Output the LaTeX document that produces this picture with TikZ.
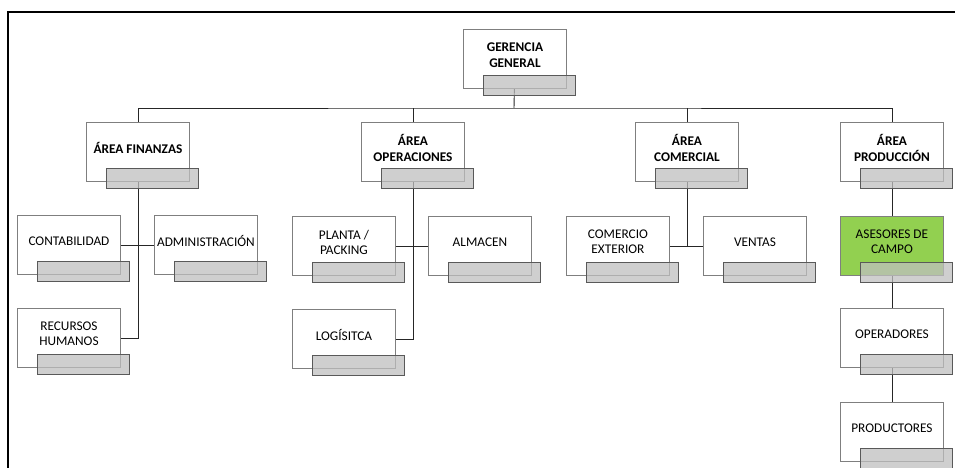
\documentclass[tikz,border=0pt]{standalone}
\usepackage{fontspec}
\setmainfont{Carlito}
\pgfdeclarelayer{bg}
\pgfsetlayers{bg,main}
\definecolor{boxgray}{HTML}{7F7F7F}
\definecolor{bargray}{HTML}{595959}
\definecolor{barfill}{HTML}{BFBFBF}
\definecolor{green}{HTML}{92D050}
\tikzset{
  wbox/.style={draw=boxgray, line width=0.9pt, minimum width=103pt, minimum height=59pt, anchor=north west, inner sep=0pt},
  gbar/.style={draw=bargray, fill=barfill, fill opacity=0.75, line width=0.9pt, minimum width=92pt, minimum height=20pt, anchor=north west, inner sep=0pt},
  lbl/.style={align=center, inner sep=0pt, font=\fontsize{13.3}{15}\selectfont},
  blbl/.style={align=center, inner sep=0pt, font=\bfseries\fontsize{13.3}{16.5}\selectfont},
  conn/.style={line width=0.9pt, draw=black!85},
  frame/.style={line width=2pt, draw=black}
}
\newcommand\orgunit[6][white]{%
  \node[wbox, fill=#1] (#2) at (#3,#4) {};
  \node[gbar] (#2-b) at ([xshift=20pt,yshift=-46pt]#2.north west) {};
  \node[#5] (#2-t) at ([yshift=-26pt]#2.north) {#6};
}
\begin{document}
\begin{tikzpicture}[x=1pt,y=-1pt]
\useasboundingbox (0,0) rectangle (955,468);
\draw[frame] (8,468) -- (8,12) -- (955,12);

\orgunit{gg}{463}{29}{blbl}{GERENCIA\\GENERAL}
\orgunit{fin}{86}{122}{blbl}{ÁREA FINANZAS}
\orgunit{ope}{361}{122}{blbl}{ÁREA\\OPERACIONES}
\orgunit{com}{635}{122}{blbl}{ÁREA\\COMERCIAL}
\orgunit{prod}{840}{122}{blbl}{ÁREA\\PRODUCCIÓN}

\orgunit{cont}{17}{215}{lbl}{CONTABILIDAD}
\orgunit{adm}{154}{215}{lbl}{ADMINISTRACIÓN}
\orgunit{rh}{17}{308}{lbl}{RECURSOS\\HUMANOS}

\orgunit{pla}{292}{216}{lbl}{PLANTA /\\PACKING}
\orgunit{alm}{428}{216}{lbl}{ALMACEN}
\orgunit{log}{292}{309}{lbl}{LOGÍSITCA}

\orgunit{ce}{566}{216}{lbl}{COMERCIO\\EXTERIOR}
\orgunit{ven}{703}{216}{lbl}{VENTAS}

\orgunit[green]{ase}{840}{216}{lbl}{ASESORES DE\\CAMPO}
\orgunit{opr}{840}{308}{lbl}{OPERADORES}
\orgunit{pdr}{840}{402}{lbl}{PRODUCTORES}

\begin{pgfonlayer}{bg}
  \coordinate (hl) at (514,108);
  \draw[conn] (gg.center) -- (hl);
  \draw[conn] (fin.center) |- (hl) -| (prod.center);
  \draw[conn] (ope.center) -- (ope.center |- hl);
  \draw[conn] (com.center) -- (com.center |- hl);
  \draw[conn] (fin.center) |- (rh.east);
  \draw[conn] (cont.east) -- (adm.west);
  \draw[conn] (ope.center) |- (log.east);
  \draw[conn] (pla.east) -- (alm.west);
  \draw[conn] (com.center) -- (com.center |- ce.east);
  \draw[conn] (ce.east) -- (ven.west);
  \draw[conn] (prod.center) -- (pdr.center);
\end{pgfonlayer}
\end{tikzpicture}
\end{document}
